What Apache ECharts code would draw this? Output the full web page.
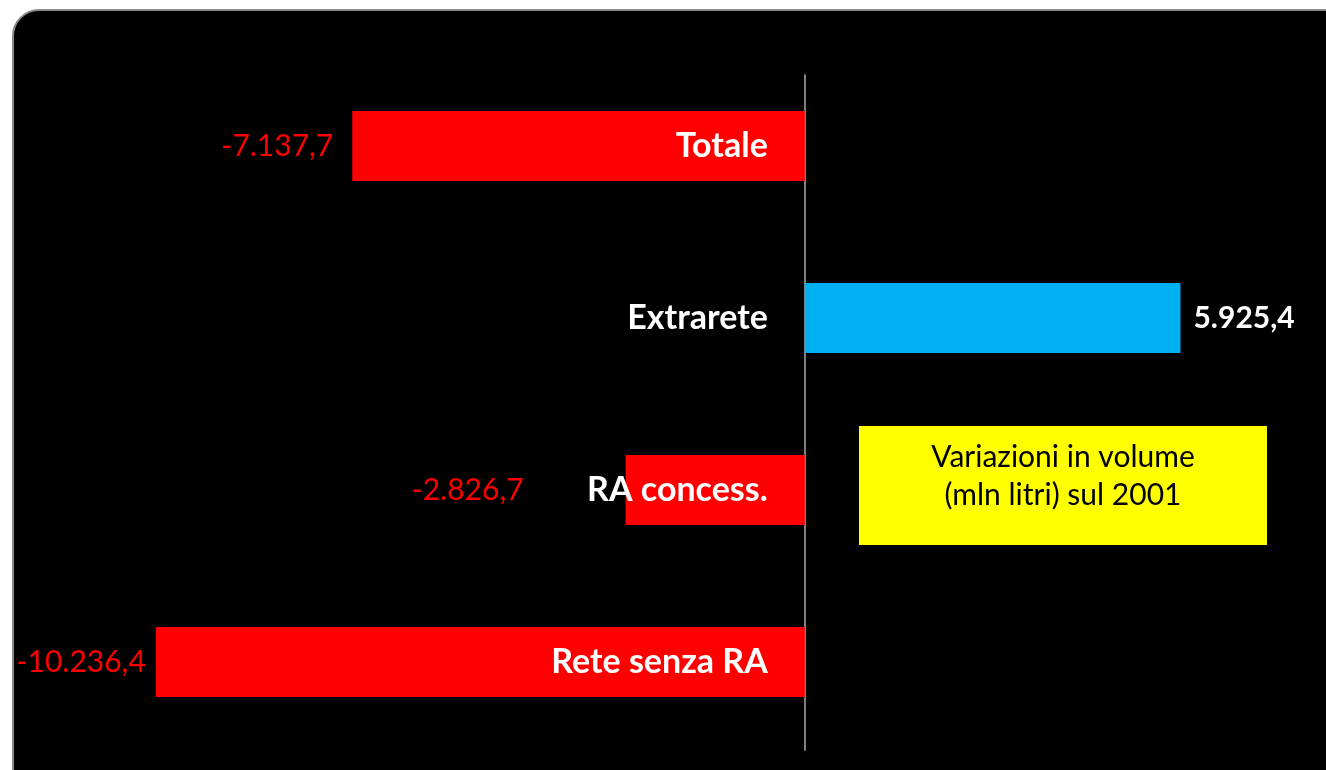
<!DOCTYPE html>
<html>
<head>
<meta charset="utf-8">
<script src="https://cdn.jsdelivr.net/npm/echarts@6/dist/echarts.min.js"></script>
<style>
html,body{margin:0;padding:0;background:#fff;}
#chart{width:1326px;height:770px;}
</style>
</head>
<body>
<div id="chart"></div>
<script>
// ---- data ----
const categories = ['Totale', 'Extrarete', 'RA concess.', 'Rete senza RA'];
const values = [-7137.7, 5925.4, -2826.7, -10236.4];
const boxText = ['Variazioni in volume', '(mln litri) sul 2001'];

// ---- layout / styling (not data) ----
const W = 1326;
const X_MIN = -12000, X_MAX = 8000;
const GRID_LEFT = 44, GRID_RIGHT = 14;
const labelGap = [19, 13, 102, 10];
const FONT = 'Lato';
// shift the category axis so its labels sit on the value 0 line
const zeroShift = (0 - X_MIN) / (X_MAX - X_MIN) * (W - GRID_LEFT - GRID_RIGHT);

function itFmt(v) {
  const neg = v < 0;
  const a = Math.abs(v);
  let intPart = Math.floor(a + 1e-9);
  const dec = Math.round((a - intPart) * 10);
  const s = String(intPart).replace(/\B(?=(\d{3})+(?!\d))/g, '.');
  return (neg ? '-' : '') + s + ',' + dec;
}

const barData = values.map((v, i) => ({
  value: v,
  itemStyle: { color: v < 0 ? '#FF0000' : '#00B0F0' },
  label: {
    show: true,
    position: v < 0 ? 'left' : 'right',
    distance: labelGap[i],
    color: v < 0 ? '#FF0000' : '#FFFFFF',
    fontWeight: v < 0 ? 'normal' : 'bold',
    fontFamily: FONT,
    fontSize: 30,
    formatter: p => itFmt(p.value)
  }
}));

const chart = echarts.init(document.getElementById('chart'));
chart.setOption({
  backgroundColor: '#FFFFFF',
  animation: false,
  graphic: [
    {
      type: 'rect', z: -10, silent: true,
      shape: { x: 13, y: 10, width: 1360, height: 800, r: 26 },
      style: { fill: '#000000', stroke: '#8a8a8a', lineWidth: 2 }
    },
    {
      type: 'group', z: 20,
      children: [
        { type: 'rect', shape: { x: 859, y: 426, width: 408, height: 119 }, style: { fill: '#FFFF00' } },
        { type: 'text', x: 1063, y: 476,
          style: { text: boxText.join('\n'), fill: '#000', font: 'normal 30px ' + FONT, lineHeight: 38, align: 'center', verticalAlign: 'middle' } }
      ]
    }
  ],
  grid: [
    { left: GRID_LEFT, right: GRID_RIGHT, top: 60, bottom: 22, containLabel: false, outerBoundsMode: 'none' },
    { left: GRID_LEFT, right: GRID_RIGHT, top: 75, bottom: 20, containLabel: false, outerBoundsMode: 'none' }
  ],
  xAxis: [
    { type: 'value', gridIndex: 0, min: X_MIN, max: X_MAX, show: false },
    { type: 'value', gridIndex: 1, min: X_MIN, max: X_MAX, show: false }
  ],
  yAxis: [
    {
      type: 'category', gridIndex: 0, data: categories, inverse: true, z: 10,
      position: 'left', offset: -zeroShift,
      axisLine: { show: false, onZero: false },
      axisTick: { show: false },
      splitLine: { show: false },
      axisLabel: { color: '#FFFFFF', fontWeight: 'bold', fontFamily: FONT, fontSize: 34, margin: 37 }
    },
    {
      type: 'value', gridIndex: 1, min: 0, max: 1,
      axisLine: { show: true, onZero: true, lineStyle: { color: '#808080', width: 2 } },
      axisTick: { show: false }, axisLabel: { show: false }, splitLine: { show: false }
    }
  ],
  series: [
    {
      type: 'bar', xAxisIndex: 0, yAxisIndex: 0,
      barWidth: 70,
      data: barData
    }
  ]
});
</script>
</body>
</html>
